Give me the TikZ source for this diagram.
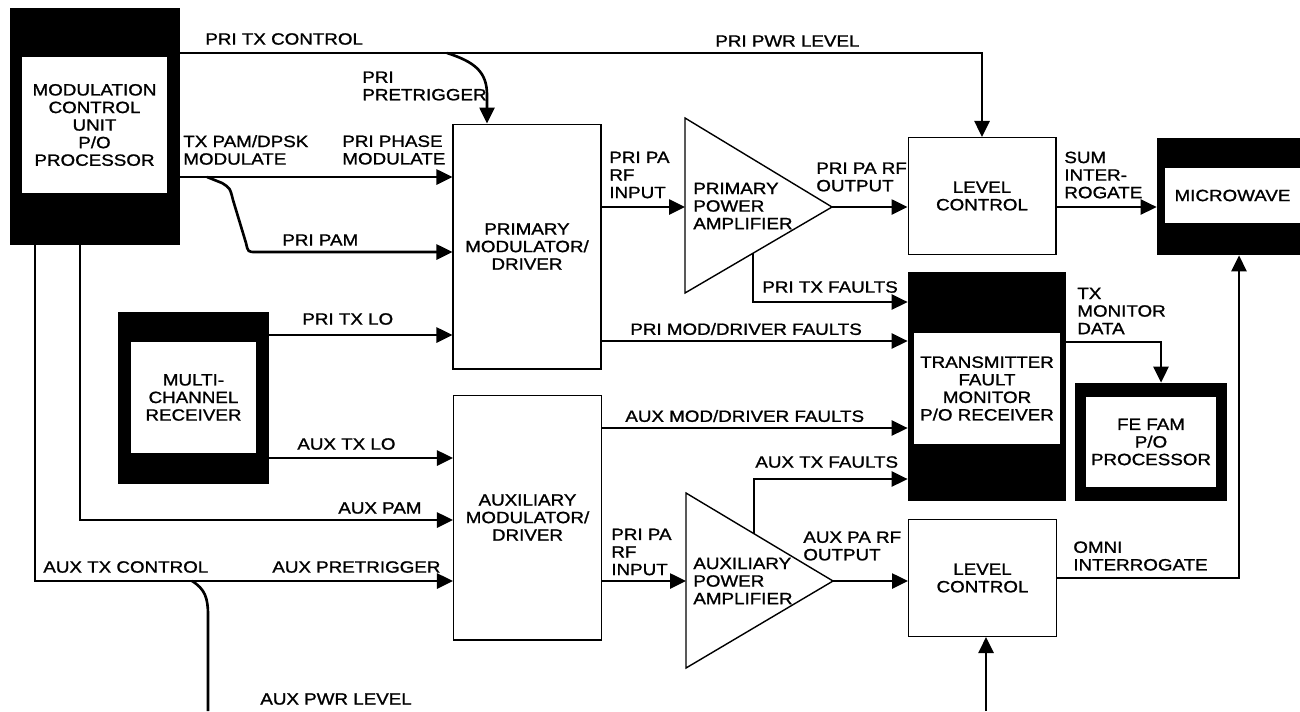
\documentclass[tikz,border=0pt]{standalone}
\usepackage{fontspec}
\setmainfont{Liberation Sans}[FakeStretch=1.15, FakeBold=1.2]
\usetikzlibrary{arrows.meta, calc}

\tikzset{
  sig/.style={line width=1.5pt},
  sigarr/.style={line width=1.5pt, -{Triangle[length=3.2mm, width=3mm]}},
  unit/.style={draw, line width=0.6pt, inner sep=0pt, align=center},
  blackunit/.style={fill=black, inner sep=0pt},
  window/.style={fill=white, inner sep=0pt, align=center},
  lbl/.style={inner sep=0pt, align=left, anchor=west},
}

\begin{document}
\begin{tikzpicture}[x=0.02cm, y=-0.02cm, font=\fontsize{9.3}{10}\selectfont]
            \useasboundingbox (0,0) rectangle (1300,711);
            %
            \node[blackunit, minimum width=3.4cm, minimum height=4.74cm] (mcu) at (95,126.5) {};
            \node[window, minimum width=2.9cm, minimum height=2.72cm] (mcuwin) at (94.5,125) {MODULATION\\CONTROL\\UNIT\\P/O\\PROCESSOR};
            \node[blackunit, minimum width=3.02cm, minimum height=3.44cm] (mcr) at (193.5,398) {};
            \node[window, minimum width=2.5cm, minimum height=2.22cm] (mcrwin) at (193.5,397.5) {MULTI-\\CHANNEL\\RECEIVER};
            \node[blackunit, minimum width=3.16cm, minimum height=4.58cm] (tfm) at (987,386.5) {};
            \node[window, minimum width=2.92cm, minimum height=2.22cm] (tfmwin) at (987,388.5) {TRANSMITTER\\FAULT\\MONITOR\\P/O RECEIVER};
            \node[blackunit, minimum width=3.04cm, minimum height=2.36cm] (fefam) at (1151,442) {};
            \node[window, minimum width=2.6cm, minimum height=1.8cm] (fefamwin) at (1151,442) {FE FAM\\P/O\\PROCESSOR};
            \node[blackunit, minimum width=2.86cm, minimum height=2.34cm] (mw) at (1228.5,196.5) {};
            \node[window, minimum width=2.7cm, minimum height=1.1cm] (mwwin) at (1232.5,195.5) {MICROWAVE};
            %
            \node[unit, minimum width=2.96cm, minimum height=4.9cm] (pmod) at (527,246.5) {PRIMARY\\MODULATOR/\\DRIVER};
            \node[unit, minimum width=2.96cm, minimum height=4.9cm] (amod) at (527.5,517.5) {AUXILIARY\\MODULATOR/\\DRIVER};
            \node[unit, minimum width=2.96cm, minimum height=2.34cm] (lvl1) at (982,196) {LEVEL\\CONTROL};
            \node[unit, minimum width=2.96cm, minimum height=2.34cm] (lvl2) at (982.5,578) {LEVEL\\CONTROL};
            %
            \draw[line width=0.8pt] (685,118) coordinate (pa1top) -- (832,207) coordinate (pa1tip) -- (685,293) coordinate (pa1bot) -- cycle;
            \coordinate (pa1in) at (685,207);
            \node[lbl] at (693,206) {PRIMARY\\POWER\\AMPLIFIER};
            \draw[line width=0.8pt] (686,493) coordinate (pa2top) -- (833,581) coordinate (pa2tip) -- (686,668) coordinate (pa2bot) -- cycle;
            \coordinate (pa2in) at (686,581);
            \node[lbl] at (693,581) {AUXILIARY\\POWER\\AMPLIFIER};
            %
            \coordinate (pretrig) at (447,53);
            \draw[sigarr] (mcu.east |- 0,53) -- (lvl1.north |- 0,53) -- (lvl1.north);
            \draw[sigarr] (pretrig) .. controls (475,62) and (487,72) .. (487,95) -- (pmod.north -| 487,0);
            \node[lbl] at (205,39) {PRI TX CONTROL};
            \node[lbl] at (362,86) {PRI\\PRETRIGGER};
            \node[lbl] at (715,41) {PRI PWR LEVEL};
            %
            \coordinate (pamsplit) at (207,177);
            \draw[sigarr] (mcu.east |- 0,177) -- (pmod.west |- 0,177);
            \draw[sigarr] (pamsplit) -- (222,183) .. controls (230,188) .. (233,200) -- (246,243) .. controls (248,252) .. (256,252) -- (pmod.west |- 0,252);
            \node[lbl] at (183,150) {TX PAM/DPSK\\MODULATE};
            \node[lbl] at (342,150) {PRI PHASE\\MODULATE};
            \node[lbl] at (282,240) {PRI PAM};
            %
            \draw[sigarr] (mcr.east |- 0,335) -- (pmod.west |- 0,335);
            \draw[sigarr] (mcr.east |- 0,458) -- (amod.west |- 0,458);
            \node[lbl] at (302,319) {PRI TX LO};
            \node[lbl] at (297,444) {AUX TX LO};
            %
            \draw[sigarr] (mcu.south -| 80,0) -- (80,520) -- (amod.west |- 0,520);
            \draw[sigarr] (mcu.south -| 35,0) -- (35,581) -- (amod.west |- 0,581);
            \node[lbl] at (338,508) {AUX PAM};
            \node[lbl] at (43,567) {AUX TX CONTROL};
            \node[lbl] at (272,567) {AUX PRETRIGGER};
            %
            \coordinate (auxpwr) at (192,581);
            \coordinate (auxpwrend) at (208,711);
            \draw[sig] (auxpwr) .. controls (205,589) and (208,598) .. (208,615) -- (auxpwrend);
            \node[lbl] at (260,699) {AUX PWR LEVEL};
            \coordinate (lvl2feed) at (986,711);
            \draw[sigarr] (lvl2feed) -- (lvl2.south -| lvl2feed);
            %
            \draw[sigarr] (pmod.east |- pa1in) -- (pa1in);
            \draw[sigarr] (pa1tip) -- (lvl1.west |- pa1tip);
            \draw[sigarr] (lvl1.east |- 0,207) -- (mw.west |- 0,207);
            \node[lbl] at (609,175) {PRI PA\\RF\\INPUT};
            \node[lbl] at (816,177) {PRI PA RF\\OUTPUT};
            \node[lbl] at (1064,175) {SUM\\INTER-\\ROGATE};
            %
            \coordinate (pa1flt) at ($(pa1tip)!0.537!(pa1bot)$);
            \draw[sigarr] (pa1flt) -- (pa1flt |- 0,302) -- (tfm.west |- 0,302);
            \draw[sigarr] (pmod.east |- 0,341) -- (tfm.west |- 0,341);
            \draw[sigarr] (amod.east |- 0,428) -- (tfm.west |- 0,428);
            \coordinate (pa2flt) at ($(pa2top)!0.463!(pa2tip)$);
            \draw[sigarr] (pa2flt) -- (pa2flt |- 0,479) -- (tfm.west |- 0,479);
            \node[lbl] at (762,287) {PRI TX FAULTS};
            \node[lbl] at (630,329) {PRI MOD/DRIVER FAULTS};
            \node[lbl] at (625,416) {AUX MOD/DRIVER FAULTS};
            \node[lbl] at (755,462) {AUX TX FAULTS};
            %
            \draw[sigarr] (amod.east |- pa2in) -- (pa2in);
            \draw[sigarr] (pa2tip) -- (lvl2.west |- pa2tip);
            \node[lbl] at (611,552) {PRI PA\\RF\\INPUT};
            \node[lbl] at (803,546) {AUX PA RF\\OUTPUT};
            %
            \draw[sigarr] (lvl2.east) -- (1239,578) -- (mw.south -| 1239,0);
            \node[lbl] at (1073,556) {OMNI\\INTERROGATE};
            \draw[sigarr] (tfm.east |- 0,342) -- (1161,342) -- (fefam.north -| 1161,0);
            \node[lbl] at (1077,311) {TX\\MONITOR\\DATA};
\end{tikzpicture}
\end{document}
